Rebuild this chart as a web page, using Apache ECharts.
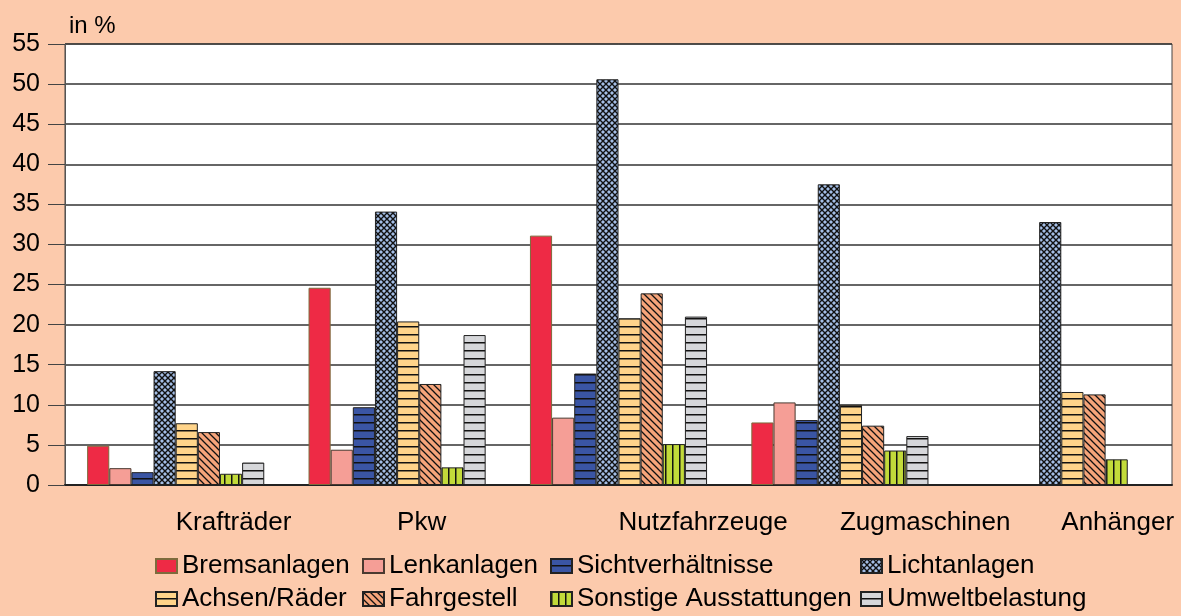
<!DOCTYPE html>
<html>
<head>
<meta charset="utf-8">
<script src="https://cdn.jsdelivr.net/npm/echarts@6/dist/echarts.min.js"></script>
<style>
  html, body { margin: 0; padding: 0; background: #fccaac; }
  #main { width: 1181px; height: 616px; }
</style>
</head>
<body>
<div id="main"></div>
<script>
// Werte in %
const categories = ["Krafträder", "Pkw", "Nutzfahrzeuge", "Zugmaschinen", "Anhänger"];
const bremsanlagen = [4.9, 24.6, 31.1, 7.8, null];
const lenkanlagen = [2.1, 4.4, 8.4, 10.3, null];
const sichtverhaeltnisse = [1.6, 9.7, 13.9, 8.1, null];
const lichtanlagen = [14.2, 34.1, 50.6, 37.5, 32.8];
const achsenRaeder = [7.7, 20.4, 20.8, 10.0, 11.6];
const fahrgestell = [6.6, 12.6, 23.9, 7.4, 11.3];
const sonstige = [1.4, 2.2, 5.1, 4.3, 3.2];
const umweltbelastung = [2.8, 18.7, 21.0, 6.1, null];

const FONT = "'Liberation Sans', Arial, sans-serif";

// kleine Kacheln für die Schraffuren
function tile(w, h, bg, draw) {
  const c = document.createElement("canvas");
  c.width = w;
  c.height = h;
  const ctx = c.getContext("2d");
  ctx.fillStyle = bg;
  ctx.fillRect(0, 0, w, h);
  ctx.strokeStyle = "#111";
  ctx.fillStyle = "#111";
  draw(ctx, w, h);
  return { image: c, repeat: "repeat" };
}
const hLines = (bg) => tile(8, 8, bg, (ctx, w) => ctx.fillRect(0, 6, w, 1.5));
const vLines = (bg) => tile(7, 8, bg, (ctx, w, h) => ctx.fillRect(0, 0, 1.5, h));
const diag = (bg) =>
  tile(7, 7, bg, (ctx) => {
    ctx.lineWidth = 1.3;
    ctx.beginPath();
    ctx.moveTo(-1, -1); ctx.lineTo(8, 8);
    ctx.moveTo(-1, 6); ctx.lineTo(1, 8);
    ctx.moveTo(6, -1); ctx.lineTo(8, 1);
    ctx.stroke();
  });
const cross = (bg) =>
  tile(6, 6, bg, (ctx) => {
    ctx.lineWidth = 1.4;
    ctx.beginPath();
    ctx.moveTo(-1, -1); ctx.lineTo(7, 7);
    ctx.moveTo(7, -1); ctx.lineTo(-1, 7);
    ctx.stroke();
  });

function bar(name, data, color, border) {
  return {
    name: name,
    type: "bar",
    data: data,
    barGap: "0%",
    barCategoryGap: "20%",
    itemStyle: { color: color, borderColor: border || "#222", borderWidth: 1 },
  };
}

const myChart = echarts.init(document.getElementById("main"));

const legendBase = {
  orient: "vertical",
  top: 553,
  padding: 0,
  itemGap: 7,
  itemWidth: 21,
  itemHeight: 14,
  icon: "rect",
  selectedMode: false,
  textStyle: { fontFamily: FONT, fontSize: 26, color: "#000" },
};

const option = {
  backgroundColor: "#fccaac",
  animation: false,
  textStyle: { fontFamily: FONT },
  title: {
    text: "in %",
    left: 64,
    top: 9,
    textStyle: { fontFamily: FONT, fontSize: 24, fontWeight: "normal", color: "#000" },
  },
  legend: [
    Object.assign({}, legendBase, { left: 155, data: ["Bremsanlagen", "Achsen/Räder"] }),
    Object.assign({}, legendBase, { left: 362, data: ["Lenkanlagen", "Fahrgestell"] }),
    Object.assign({}, legendBase, { left: 550, data: ["Sichtverhältnisse", "Sonstige Ausstattungen"] }),
    Object.assign({}, legendBase, { left: 860, data: ["Lichtanlagen", "Umweltbelastung"] }),
  ],
  grid: {
    left: 65,
    right: 9,
    top: 44,
    bottom: 131,
    show: true,
    backgroundColor: "#fff",
    borderColor: "#444",
    borderWidth: 1,
  },
  xAxis: {
    type: "category",
    data: categories,
    axisLine: { lineStyle: { color: "#222", width: 2 } },
    axisTick: { alignWithLabel: true, length: 16, lineStyle: { color: "#444" } },
    axisLabel: {
      interval: 0,
      align: "left",
      margin: 25,
      fontFamily: FONT,
      fontSize: 26,
      color: "#000",
    },
  },
  yAxis: {
    type: "value",
    min: 0,
    max: 55,
    interval: 5,
    axisLine: { show: true, lineStyle: { color: "#555" } },
    axisTick: { show: true, length: 17, lineStyle: { color: "#444" } },
    axisLabel: { margin: 25, fontFamily: FONT, fontSize: 25, color: "#000" },
    splitLine: { lineStyle: { color: "#333", width: 1.5 } },
  },
  series: [
    bar("Bremsanlagen", bremsanlagen, "#ee2a45", "#7d6b3c"),
    bar("Lenkanlagen", lenkanlagen, "#f59e96", "#4a3a30"),
    bar("Sichtverhältnisse", sichtverhaeltnisse, hLines("#3a55a4")),
    bar("Lichtanlagen", lichtanlagen, cross("#a4bee6")),
    bar("Achsen/Räder", achsenRaeder, hLines("#ffd48a")),
    bar("Fahrgestell", fahrgestell, diag("#f5a47a")),
    bar("Sonstige Ausstattungen", sonstige, vLines("#c2da3a")),
    bar("Umweltbelastung", umweltbelastung, hLines("#d6d7da")),
  ],
};

option && myChart.setOption(option);
</script>
</body>
</html>
